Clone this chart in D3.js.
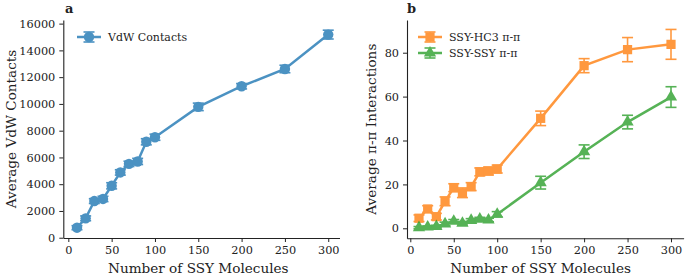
<!DOCTYPE html>
<html>
<head>
<meta charset="utf-8">
<script src="https://cdn.jsdelivr.net/npm/d3@7"></script>
<style>
  body { margin: 0; background: #fff; }
  svg text { font-family: "DejaVu Serif", serif; fill: #222; }
</style>
</head>
<body>
<svg id="grafico" width="685" height="275"></svg>
<script>
const moleculas = [10, 20, 30, 40, 50, 60, 70, 80, 90, 100, 150, 200, 250, 300];
const vdw = [750, 1450, 2740, 2900, 3880, 4880, 5520, 5700, 7170, 7510, 9780, 11320, 12610, 15180];
const vdwErro = [150, 180, 180, 200, 230, 200, 200, 230, 230, 230, 280, 200, 280, 330];
const hc3 = [4.6, 8.8, 5.3, 12.3, 18.5, 16.2, 19, 25.7, 26.1, 27, 50.1, 74.1, 81.4, 83.8];
const hc3Erro = [1.5, 1.5, 1.5, 2, 1.8, 2.2, 1.8, 1.8, 1.8, 1.8, 3.3, 3.2, 5.5, 6.8];
const ssy = [0.3, 0.6, 0.8, 2, 3.2, 2.3, 3.6, 4.2, 3.8, 6.4, 20.8, 34.9, 48.4, 59.8];
const ssyErro = [0.5, 0.5, 0.6, 0.8, 0.8, 0.8, 0.8, 0.8, 0.8, 1.2, 2.9, 3.1, 3.1, 4.7];

const ticksX = [0, 50, 100, 150, 200, 250, 300];
const ticksA = [0, 2000, 4000, 6000, 8000, 10000, 12000, 14000, 16000];
const ticksB = [0, 20, 40, 60, 80];

const svg = d3.select('#grafico');

function simbolo(tipo, tam) {
  if (tipo === 'circulo') return d3.symbol(d3.symbolCircle, tam)();
  if (tipo === 'quadrado') return d3.symbol(d3.symbolSquare, tam)();
  return d3.symbol(d3.symbolTriangle, tam)();
}

function criaPainel(p) {
  const x = d3.scaleLinear().domain(p.dominioX).range(p.faixaX);
  const y = d3.scaleLinear().domain(p.dominioY).range(p.faixaY);
  const g = svg.append('g');

  const eixoX = d3.axisBottom(x).tickValues(ticksX).tickFormat(d3.format('d'))
    .tickSize(4).tickPadding(4).tickSizeOuter(0);
  const eixoY = d3.axisLeft(y).tickValues(p.ticksY).tickFormat(d3.format('d'))
    .tickSize(4).tickPadding(4).tickSizeOuter(0);

  g.append('g').attr('transform', `translate(0, ${p.faixaY[0]})`).call(eixoX);
  g.append('g').attr('transform', `translate(${p.faixaX[0]}, 0)`).call(eixoY);
  g.selectAll('.domain').attr('stroke', '#222').attr('stroke-width', 1.1);
  g.selectAll('.tick line').attr('stroke', '#222').attr('stroke-width', 1);
  g.selectAll('.tick text').style('font-family', '"DejaVu Serif", serif').style('font-size', '11.3px').attr('fill', '#222');

  p.series.forEach(s => {
    const sg = g.append('g').attr('opacity', 0.8);
    const linha = d3.line().x((d, i) => x(moleculas[i])).y(d => y(d));
    sg.append('path').datum(s.valores).attr('d', linha)
      .attr('fill', 'none').attr('stroke', s.cor).attr('stroke-width', 2.5);

    s.valores.forEach((v, i) => {
      const cx = x(moleculas[i]);
      const y1 = y(v - s.erros[i]), y2 = y(v + s.erros[i]);
      sg.append('line').attr('x1', cx).attr('x2', cx).attr('y1', y1).attr('y2', y2)
        .attr('stroke', s.cor).attr('stroke-width', 1.6);
      [y1, y2].forEach(yy => {
        sg.append('line').attr('x1', cx - 5.5).attr('x2', cx + 5.5).attr('y1', yy).attr('y2', yy)
          .attr('stroke', s.cor).attr('stroke-width', 1.6);
      });
      sg.append('path').attr('d', simbolo(s.marcador, s.tamanho))
        .attr('transform', `translate(${cx}, ${y(v)})`).attr('fill', s.cor);
    });

    // legenda
    const lg = g.append('g').attr('opacity', 0.8)
      .attr('transform', `translate(${s.legenda[0]}, ${s.legenda[1]})`);
    lg.append('line').attr('x1', 0).attr('x2', 24).attr('stroke', s.cor).attr('stroke-width', 2.5);
    lg.append('line').attr('x1', 12).attr('x2', 12).attr('y1', -5).attr('y2', 5).attr('stroke', s.cor).attr('stroke-width', 1.6);
    [-5, 5].forEach(yy => lg.append('line').attr('x1', 6.5).attr('x2', 17.5).attr('y1', yy).attr('y2', yy)
      .attr('stroke', s.cor).attr('stroke-width', 1.6));
    lg.append('path').attr('d', simbolo(s.marcador, s.tamanho)).attr('transform', 'translate(12, 0)').attr('fill', s.cor);
    g.append('text').attr('x', s.legenda[0] + 31).attr('y', s.legenda[1]).attr('dy', '0.35em')
      .style('font-size', '11px').text(s.nome);
  });

  g.append('text')
    .attr('transform', `translate(${p.posTituloY}, ${(p.faixaY[0] + p.faixaY[1]) / 2}) rotate(-90)`)
    .style('text-anchor', 'middle').style('font-size', '13.6px').attr('dy', '0.35em')
    .text(p.tituloY);

  g.append('text')
    .attr('x', (x(0) + x(300)) / 2).attr('y', 273)
    .style('text-anchor', 'middle').style('font-size', '13.6px')
    .text('Number of SSY Molecules');

  g.append('text')
    .attr('x', p.letra[0]).attr('y', p.letra[1])
    .style('font-size', '13px').style('font-weight', 'bold')
    .text(p.rotulo);
}

criaPainel({
  dominioX: [-5.8, 313], faixaX: [63.3, 339.5],
  dominioY: [-20, 16270], faixaY: [238, 20],
  ticksY: ticksA,
  tituloY: 'Average VdW Contacts', posTituloY: 11,
  rotulo: 'a', letra: [65, 13],
  series: [
    { nome: 'VdW Contacts', valores: vdw, erros: vdwErro, cor: '#1f77b4', marcador: 'circulo', tamanho: 85, legenda: [77, 37] }
  ]
});

criaPainel({
  dominioX: [-3.8, 314.5], faixaX: [407, 683.6],
  dominioY: [-4.55, 94.9], faixaY: [238.3, 20],
  ticksY: ticksB,
  tituloY: 'Average π-π Interactions', posTituloY: 371,
  rotulo: 'b', letra: [407, 13],
  series: [
    { nome: 'SSY-HC3 π-π', valores: hc3, erros: hc3Erro, cor: '#ff7f0e', marcador: 'quadrado', tamanho: 85, legenda: [418, 37] },
    { nome: 'SSY-SSY π-π', valores: ssy, erros: ssyErro, cor: '#2ca02c', marcador: 'triangulo', tamanho: 65, legenda: [418, 53] }
  ]
});
</script>
</body>
</html>
